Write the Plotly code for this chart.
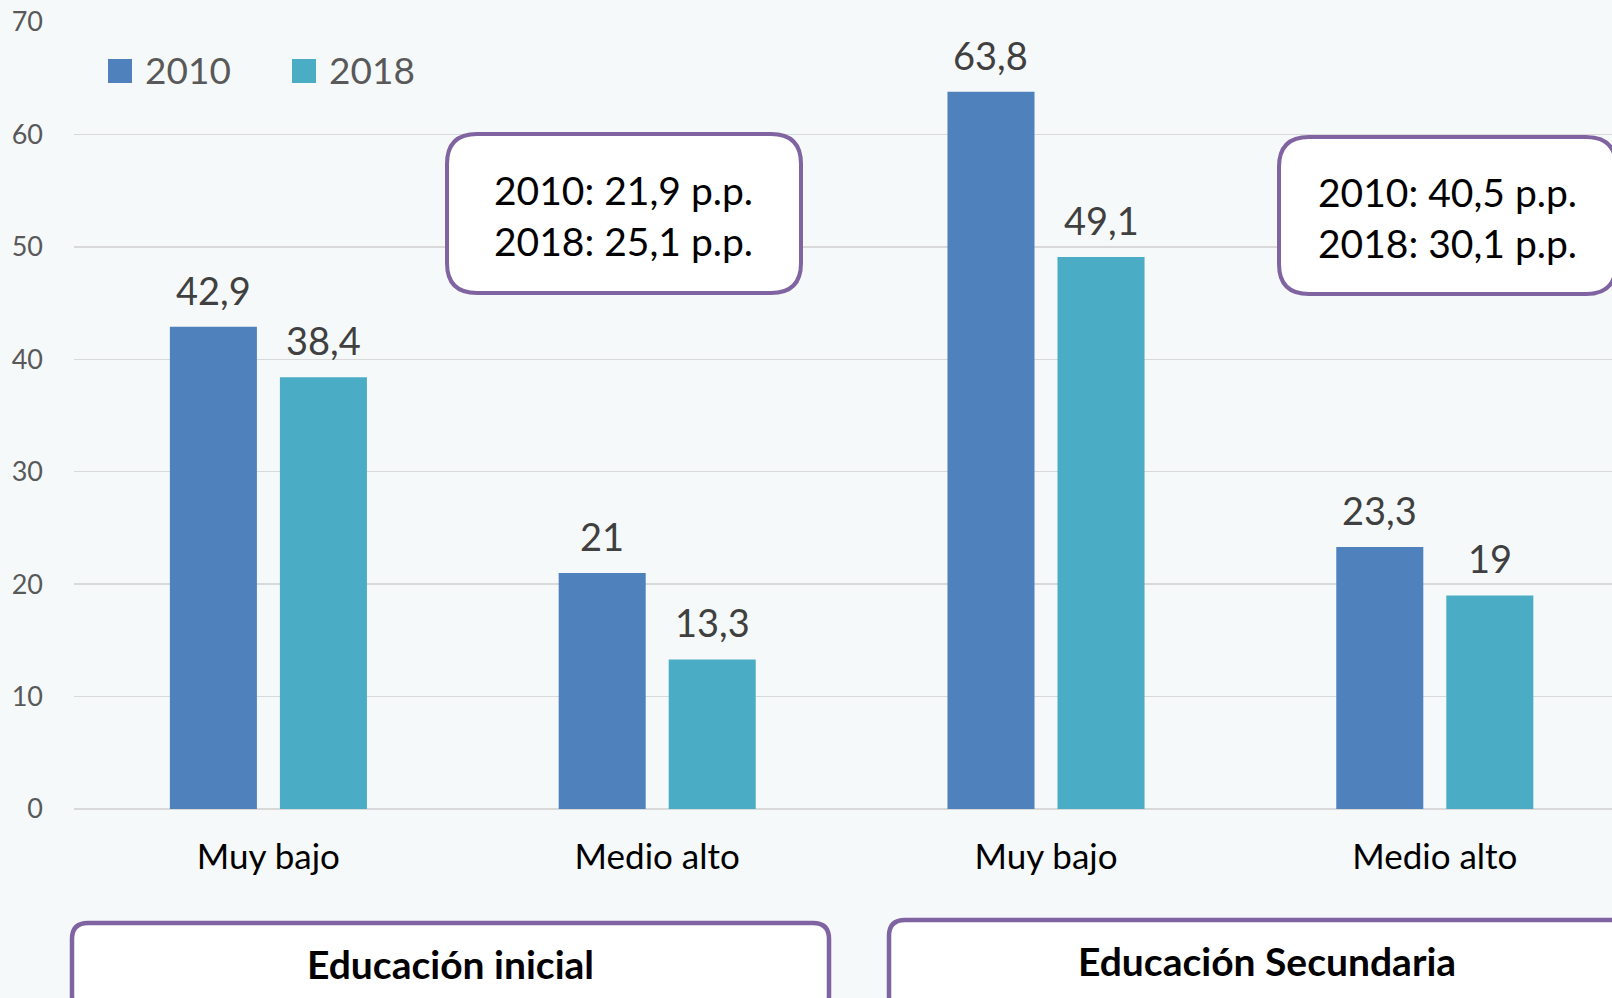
import plotly.graph_objects as go

# ---- data ----
categories = ["Muy bajo", "Medio alto", "Muy bajo", "Medio alto"]
series_names = ["2010", "2018"]
values_2010 = [42.9, 21, 63.8, 23.3]
values_2018 = [38.4, 13.3, 49.1, 19]
y_ticks = [0, 10, 20, 30, 40, 50, 60, 70]
gap_notes = ["2010: 21,9 p.p.<br>2018: 25,1 p.p.", "2010: 40,5 p.p.<br>2018: 30,1 p.p."]
group_titles = ["Educación inicial", "Educación Secundaria"]

colors = ["#4F81BD", "#4BACC6"]
FONT = "Lato"

W, H = 1612, 998
ML, MR, MT, MB = 74, 0, 22, 189
PW, PH = W - ML - MR, H - MT - MB
cat_px = 388.8
x_range = [-0.5, -0.5 + PW / cat_px]
BARGAP = 0.434
BARGROUPGAP = 0.209
slot = (1 - BARGAP) / 2

def px(x):
    return (x - ML) / PW

def py(y):
    return (H - MB - y) / PH

def rrect(x0, y0, x1, y1, r):
    # rounded rect in pixel coords -> paper path
    rx, ry = r / PW, r / PH
    X0, X1 = px(x0), px(x1)
    Yt, Yb = py(y0), py(y1)
    return (f"M{X0+rx},{Yt} L{X1-rx},{Yt} Q{X1},{Yt} {X1},{Yt-ry} "
            f"L{X1},{Yb+ry} Q{X1},{Yb} {X1-rx},{Yb} L{X0+rx},{Yb} "
            f"Q{X0},{Yb} {X0},{Yb+ry} L{X0},{Yt-ry} Q{X0},{Yt} {X0+rx},{Yt} Z")

xs = list(range(len(categories)))

fig = go.Figure()
for name, vals, col in zip(series_names, [values_2010, values_2018], colors):
    fig.add_trace(go.Bar(x=xs, y=vals, name=name, marker=dict(color=col, line=dict(width=0)),
                         showlegend=False, hoverinfo="skip"))

annotations = []
# value labels
for k, vals in enumerate([values_2010, values_2018]):
    off = (k - 0.5) * slot
    for i, v in enumerate(vals):
        annotations.append(dict(x=xs[i] + off, y=v, xref="x", yref="y",
                                text=f"{v:g}".replace(".", ","), showarrow=False,
                                yanchor="bottom", yshift=12,
                                font=dict(family=FONT, size=38, color="#404040")))

shapes = []
# legend (manual, larger swatches)
leg = [(108, 143), (292, 327)]
for (sx, tx), name, col in zip(leg, series_names, colors):
    shapes.append(dict(type="rect", xref="paper", yref="paper",
                       x0=px(sx), x1=px(sx + 24), y0=py(83), y1=py(59),
                       fillcolor=col, line=dict(width=0)))
    annotations.append(dict(x=px(tx), y=py(69), xref="paper", yref="paper", text=name,
                            showarrow=False, xanchor="left", yanchor="middle",
                            font=dict(family=FONT, size=37, color="#595959")))

# gap note boxes
note_boxes = [(447, 134, 801, 293), (1279, 137, 1616, 294)]
note_centers = [(623, 215), (1447, 217)]
for (x0, y0, x1, y1), (cx, cy), txt in zip(note_boxes, note_centers, gap_notes):
    shapes.append(dict(type="path", xref="paper", yref="paper", path=rrect(x0, y0, x1, y1, 30),
                       fillcolor="white", line=dict(color="#8064A2", width=4)))
    annotations.append(dict(x=px(cx), y=py(cy), xref="paper", yref="paper", text=txt,
                            showarrow=False, xanchor="center", yanchor="middle",
                            font=dict(family=FONT, size=39, color="black")))

# group title boxes
title_boxes = [(72, 923, 829, 1012), (889, 920, 1630, 1012)]
title_centers = [(450, 964), (1267, 961)]
for (x0, y0, x1, y1), (cx, cy), txt in zip(title_boxes, title_centers, group_titles):
    shapes.append(dict(type="path", xref="paper", yref="paper", path=rrect(x0, y0, x1, y1, 16),
                       fillcolor="white", line=dict(color="#8064A2", width=4.5)))
    annotations.append(dict(x=px(cx), y=py(cy), xref="paper", yref="paper", text=f"<b>{txt}</b>",
                            showarrow=False, xanchor="center", yanchor="middle",
                            font=dict(family=FONT, size=39, color="black")))

fig.update_layout(
    width=W, height=H,
    margin=dict(l=ML, r=MR, t=MT, b=MB),
    paper_bgcolor="#F6F9FA", plot_bgcolor="#F6F9FA",
    barmode="group", bargap=BARGAP, bargroupgap=BARGROUPGAP,
    separators=",.",
    showlegend=False,
    hovermode=False,
    shapes=shapes, annotations=annotations,
    font=dict(family=FONT),
)
fig.update_xaxes(range=x_range, tickvals=xs, ticktext=categories, showgrid=False,
                 zeroline=False, showline=False, ticks="", ticklabelstandoff=24,
                 tickfont=dict(family=FONT, size=35, color="#000000"))
fig.update_yaxes(range=[0, 70], tickvals=y_ticks, showgrid=True, gridcolor="#D9D9D9",
                 gridwidth=1.5, zeroline=True, zerolinecolor="#D9D9D9", zerolinewidth=1.5,
                 showline=False, ticks="", ticklabelstandoff=30,
                 tickfont=dict(family=FONT, size=27, color="#595959"))

fig.write_html("out.html", config={"displayModeBar": False, "staticPlot": True},
               post_script="document.body.style.margin='0';document.body.style.padding='0';"
                           "document.body.style.background='#F6F9FA';")
